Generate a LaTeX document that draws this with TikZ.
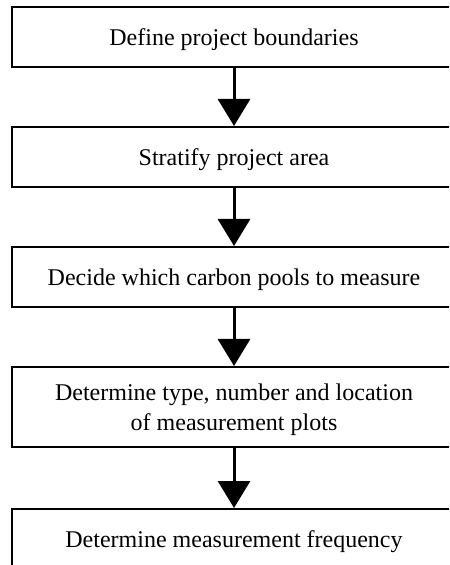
\documentclass[tikz,border=0pt]{standalone}
\usepackage{fontspec}
\setmainfont{Liberation Serif}
\usepackage{tikz}
\usetikzlibrary{arrows.meta}

\begin{document}
\begin{tikzpicture}[x=0.5pt, y=-0.5pt,
  stage/.style={draw, line width=1pt, minimum width=222.5pt, minimum height=30pt,
    align=center, inner sep=0pt, text depth=0pt, font=\fontsize{12pt}{15pt}\selectfont},
  flow/.style={line width=1.5pt, -{Triangle[width=16pt, length=13.5pt]}}]
\useasboundingbox (0,0) rectangle (449,565);
\clip (0,0) rectangle (449,565);
\node[stage] (bnd) at (234, 37.5) {Define project boundaries};
\node[stage] (strat) at (234, 157) {Stratify project area};
\node[stage] (pools) at (234, 277) {Decide which carbon pools to measure};
\node[stage, minimum height=40pt] (plots) at (234, 407) {Determine type, number and location\\of measurement plots};
\node[stage] (freq) at (234, 539) {Determine measurement frequency};
\draw (bnd) edge[flow] (strat);
\draw (strat) edge[flow] (pools);
\draw (pools) edge[flow] (plots);
\draw (plots) edge[flow] (freq);
\end{tikzpicture}
\end{document}
